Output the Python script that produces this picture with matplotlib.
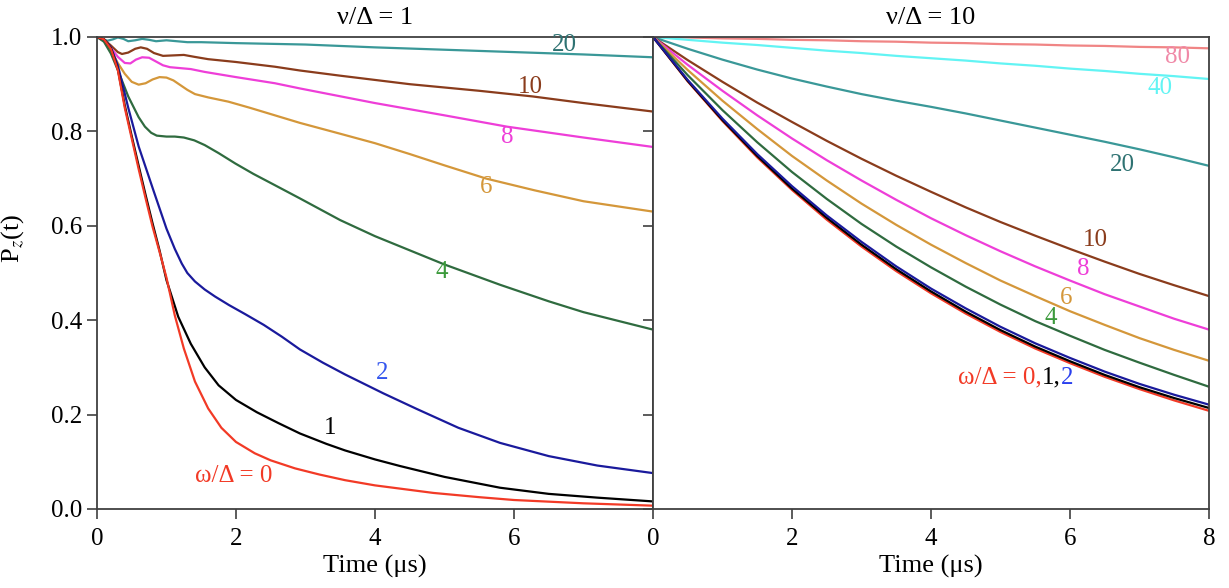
import matplotlib
matplotlib.use("Agg")
import matplotlib.pyplot as plt
import numpy as np

plt.rcParams['font.family'] = ['Liberation Serif', 'DejaVu Serif']
plt.rcParams['mathtext.fontset'] = 'stix'

# ---- left panel, nu/Delta = 1 : (time, Pz) ----
l0_t = [0, 0.1, 0.2, 0.3, 0.4, 0.5, 0.6, 0.7, 0.8, 0.9, 1.0, 1.12, 1.25, 1.41, 1.6, 1.79, 2.0, 2.27, 2.5, 2.85, 3.2, 3.57, 4.0, 4.84, 5.5, 6.0, 7.0, 8.0]
l0_p = [1.0, 0.995, 0.975, 0.93, 0.85, 0.785, 0.72, 0.658, 0.598, 0.545, 0.49, 0.41, 0.34, 0.27, 0.213, 0.172, 0.142, 0.118, 0.103, 0.086, 0.073, 0.061, 0.05, 0.034, 0.025, 0.019, 0.012, 0.007]

l1_t = [0, 0.1, 0.2, 0.3, 0.4, 0.5, 0.6, 0.7, 0.8, 0.9, 1.0, 1.17, 1.35, 1.55, 1.75, 2.0, 2.3, 2.61, 2.92, 3.3, 3.57, 4.0, 4.36, 5.0, 5.8, 6.5, 7.2, 8.0]
l1_p = [1.0, 0.995, 0.976, 0.932, 0.855, 0.79, 0.727, 0.665, 0.605, 0.548, 0.485, 0.407, 0.35, 0.30, 0.262, 0.231, 0.205, 0.182, 0.160, 0.138, 0.124, 0.105, 0.091, 0.068, 0.045, 0.032, 0.024, 0.016]

l2_t = [0, 0.1, 0.2, 0.3, 0.45, 0.6, 0.81, 1.0, 1.12, 1.22, 1.3, 1.41, 1.55, 1.7, 1.9, 2.13, 2.4, 2.66, 2.92, 3.25, 3.57, 4.12, 4.6, 5.2, 5.8, 6.5, 7.2, 8.0]
l2_p = [1.0, 0.995, 0.978, 0.94, 0.85, 0.768, 0.676, 0.594, 0.551, 0.52, 0.50, 0.482, 0.465, 0.45, 0.432, 0.413, 0.39, 0.365, 0.338, 0.31, 0.285, 0.245, 0.212, 0.172, 0.14, 0.112, 0.092, 0.076]

l4_t = [0, 0.1, 0.2, 0.3, 0.45, 0.6, 0.69, 0.78, 0.86, 1.0, 1.12, 1.25, 1.4, 1.55, 1.75, 1.99, 2.25, 2.56, 2.92, 3.5, 4.0, 4.5, 5.0, 5.8, 6.5, 7.0, 8.0]
l4_p = [1.0, 0.99, 0.965, 0.93, 0.874, 0.83, 0.81, 0.797, 0.791, 0.789, 0.789, 0.787, 0.781, 0.771, 0.754, 0.732, 0.71, 0.686, 0.658, 0.612, 0.578, 0.548, 0.518, 0.475, 0.44, 0.417, 0.38]

l6_t = [0, 0.1, 0.2, 0.3, 0.4, 0.5, 0.6, 0.7, 0.8, 0.9, 1.0, 1.1, 1.2, 1.3, 1.41, 1.6, 1.89, 2.2, 2.56, 2.92, 3.5, 4.0, 4.5, 5.0, 5.6, 6.3, 7.0, 8.0]
l6_p = [1.0, 0.992, 0.972, 0.945, 0.922, 0.905, 0.899, 0.902, 0.910, 0.915, 0.914, 0.908, 0.898, 0.888, 0.879, 0.872, 0.863, 0.85, 0.834, 0.818, 0.795, 0.775, 0.752, 0.728, 0.70, 0.675, 0.652, 0.63]

l8_t = [0, 0.1, 0.2, 0.3, 0.4, 0.48, 0.56, 0.65, 0.75, 0.85, 0.95, 1.05, 1.2, 1.35, 1.55, 2.0, 2.56, 2.92, 4.0, 5.0, 5.9, 7.0, 8.0]
l8_p = [1.0, 0.993, 0.977, 0.958, 0.945, 0.944, 0.952, 0.957, 0.956, 0.948, 0.940, 0.936, 0.934, 0.932, 0.926, 0.915, 0.902, 0.891, 0.86, 0.834, 0.81, 0.787, 0.767]

l10_t = [0, 0.1, 0.2, 0.3, 0.36, 0.45, 0.55, 0.63, 0.72, 0.82, 0.95, 1.1, 1.25, 1.4, 1.6, 2.0, 2.56, 2.92, 3.5, 4.5, 5.5, 6.27, 7.0, 8.0]
l10_p = [1.0, 0.995, 0.982, 0.968, 0.964, 0.967, 0.975, 0.978, 0.975, 0.966, 0.960, 0.961, 0.962, 0.958, 0.953, 0.947, 0.937, 0.929, 0.918, 0.90, 0.886, 0.874, 0.86, 0.842]

l20_t = [0, 0.08, 0.15, 0.23, 0.3, 0.38, 0.45, 0.55, 0.65, 0.75, 0.85, 1.0, 1.15, 1.3, 1.5, 2.0, 3.0, 4.0, 5.0, 6.0, 7.0, 8.0]
l20_p = [1.0, 0.996, 0.992, 0.995, 0.999, 0.996, 0.991, 0.993, 0.996, 0.994, 0.991, 0.993, 0.991, 0.989, 0.989, 0.987, 0.984, 0.978, 0.973, 0.968, 0.963, 0.957]

# ---- right panel, nu/Delta = 10 ----
rt = [0, 0.5, 1, 1.5, 2, 2.5, 3, 3.5, 4, 4.5, 5, 5.5, 6, 6.5, 7, 7.5, 8]
r0_p = [1.0, 0.906, 0.822, 0.745, 0.676, 0.613, 0.556, 0.504, 0.457, 0.414, 0.375, 0.340, 0.309, 0.280, 0.254, 0.230, 0.208]
r1_p = [1.0, 0.907, 0.824, 0.748, 0.679, 0.617, 0.560, 0.508, 0.461, 0.418, 0.379, 0.344, 0.313, 0.284, 0.258, 0.235, 0.214]
r2_p = [1.0, 0.909, 0.827, 0.752, 0.684, 0.622, 0.566, 0.514, 0.467, 0.425, 0.386, 0.351, 0.320, 0.291, 0.265, 0.242, 0.221]
r4_p = [1.0, 0.919, 0.845, 0.777, 0.714, 0.657, 0.604, 0.556, 0.512, 0.471, 0.433, 0.398, 0.367, 0.337, 0.310, 0.284, 0.259]
r6_p = [1.0, 0.930, 0.865, 0.805, 0.748, 0.696, 0.647, 0.602, 0.560, 0.521, 0.484, 0.451, 0.419, 0.390, 0.362, 0.337, 0.314]
r8_p = [1.0, 0.941, 0.886, 0.834, 0.785, 0.739, 0.696, 0.655, 0.616, 0.580, 0.546, 0.514, 0.484, 0.455, 0.429, 0.403, 0.380]
r10_p = [1.0, 0.951, 0.905, 0.861, 0.820, 0.780, 0.742, 0.706, 0.672, 0.639, 0.608, 0.579, 0.551, 0.524, 0.498, 0.474, 0.451]
r20_p = [1.0, 0.975, 0.952, 0.931, 0.912, 0.895, 0.879, 0.865, 0.852, 0.838, 0.823, 0.808, 0.793, 0.778, 0.762, 0.745, 0.727]
r40_p = [1.0, 0.994, 0.988, 0.983, 0.977, 0.971, 0.966, 0.96, 0.955, 0.95, 0.944, 0.939, 0.933, 0.928, 0.922, 0.917, 0.911]
r80_p = [1.0, 0.999, 0.997, 0.996, 0.994, 0.993, 0.991, 0.99, 0.988, 0.987, 0.985, 0.984, 0.982, 0.981, 0.979, 0.978, 0.976]

c_red, c_black, c_blue = '#f23a26', 'black', '#1a1a9c'
c_green, c_orange, c_pink = '#2f6b3f', '#d4973a', '#ee3ed8'
c_brown, c_teal, c_cyan, c_salmon = '#8a3c1c', '#3a9898', '#62f4f4', '#f08585'

fig = plt.figure(figsize=(12.29, 5.88), dpi=100)
axl = fig.add_axes([0.0789, 0.1344, 0.4524, 0.8027])
axr = fig.add_axes([0.5313, 0.1344, 0.4524, 0.8027])

lw = 1.6
for t, p, c in [(l20_t, l20_p, c_teal), (l10_t, l10_p, c_brown), (l8_t, l8_p, c_pink),
                (l6_t, l6_p, c_orange), (l4_t, l4_p, c_green), (l2_t, l2_p, c_blue),
                (l1_t, l1_p, c_black), (l0_t, l0_p, c_red)]:
    axl.plot(t, p, color=c, lw=lw)

for p, c in [(r80_p, c_salmon), (r40_p, c_cyan), (r20_p, c_teal), (r10_p, c_brown),
             (r8_p, c_pink), (r6_p, c_orange), (r4_p, c_green), (r0_p, c_red),
             (r1_p, c_black), (r2_p, c_blue)]:
    axr.plot(rt, p, color=c, lw=lw)

fs = 18
for txt, x, y, c in [('20', 6.73, 0.983, '#2e7272'), ('10', 6.23, 0.894, c_brown),
                     ('8', 5.91, 0.788, c_pink), ('6', 5.60, 0.682, c_orange),
                     ('4', 4.96, 0.502, '#3c9a3c'), ('2', 4.10, 0.288, '#3355ee'),
                     ('1', 3.35, 0.172, 'black'), ('ω/Δ = 0', 1.96, 0.070, c_red)]:
    axl.text(x, y, txt, color=c, fontsize=fs, ha='center', va='center')

for txt, x, y, c in [('80', 7.55, 0.958, '#f08aa8'), ('40', 7.29, 0.892, c_cyan),
                     ('20', 6.76, 0.729, '#2e7272'), ('10', 6.37, 0.57, c_brown),
                     ('8', 6.19, 0.508, c_pink), ('6', 5.94, 0.447, c_orange),
                     ('4', 5.73, 0.405, '#3c9a3c')]:
    axr.text(x, y, txt, color=c, fontsize=fs, ha='center', va='center')

# multi-coloured label omega/Delta = 0,1,2
tx = axr.text(4.39, 0.278, 'ω/Δ = 0,', color=c_red, fontsize=fs, va='center')
tx = axr.annotate('1,', xycoords=tx, xy=(1, 0.5), va='center', color='black', fontsize=fs)
axr.annotate('2', xycoords=tx, xy=(1, 0.5), va='center', color='#2a40ee', fontsize=fs)

for ax in (axl, axr):
    ax.set_xlim(0, 8)
    ax.set_ylim(0, 1)
    for s in ax.spines.values():
        s.set_color('#404040')
        s.set_linewidth(1.3)
    ax.tick_params(direction='out', length=7, width=1.2, color='#404040',
                   labelsize=18, right=False, top=False)
    ax.tick_params(axis='x', pad=7)
    ax.set_xlabel('Time (μs)', fontsize=19, labelpad=3)

axl.set_xticks([0, 2, 4, 6])
axr.set_xticks([0, 2, 4, 6, 8])
axl.set_yticks(np.arange(0, 1.01, 0.2))
axl.set_yticklabels(['0.0', '0.2', '0.4', '0.6', '0.8', '1.0'])
axr.set_yticks(np.arange(0, 1.01, 0.2))
axr.set_yticklabels([])
axl.set_ylabel('P$_z$(t)', fontsize=19)
axl.yaxis.set_label_coords(-0.128, 0.574)

axl.set_title('ν/Δ = 1', fontsize=19, pad=9)
axr.set_title('ν/Δ = 10', fontsize=19, pad=9)

fig.savefig('out.png', dpi=100)
